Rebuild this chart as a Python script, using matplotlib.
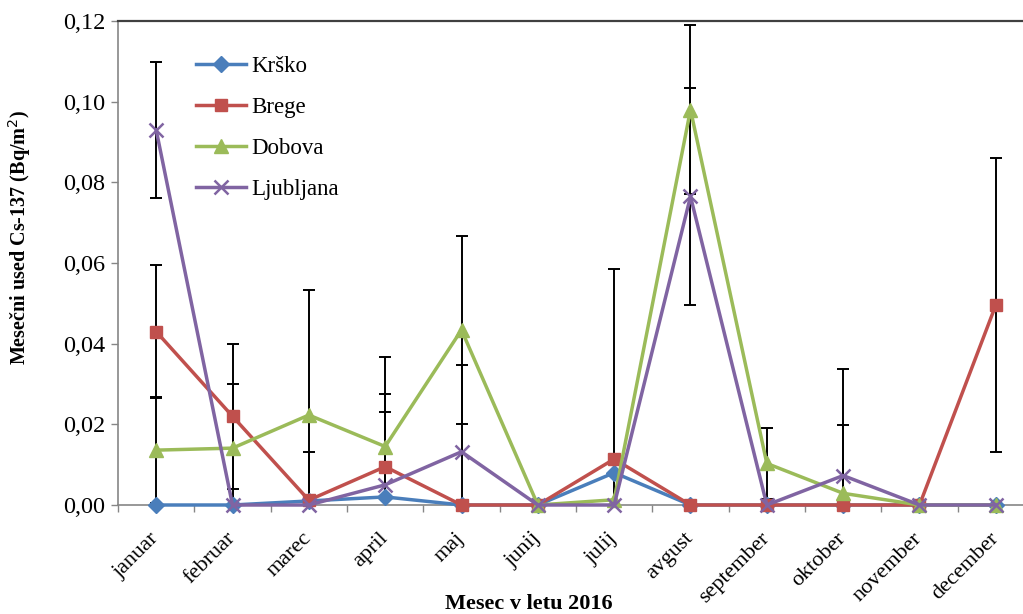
import numpy as np
import matplotlib
matplotlib.use("Agg")
import matplotlib.pyplot as plt
from matplotlib.ticker import FuncFormatter, MultipleLocator

plt.rcParams['font.family'] = ['Liberation Serif', 'DejaVu Serif']

months = ['januar', 'februar', 'marec', 'april', 'maj', 'junij', 'julij',
          'avgust', 'september', 'oktober', 'november', 'december']

krsko = [0.0, 0.0, 0.001, 0.002, 0.0, 0.0, 0.008, 0.0, 0.0, 0.0, 0.0, 0.0]
brege = [0.043, 0.022, 0.0012, 0.0095, 0.0, 0.0, 0.0114, 0.0, 0.0, 0.0, 0.0, 0.0496]
dobova = [0.0136, 0.0141, 0.0223, 0.0145, 0.0434, 0.0, 0.0013, 0.098, 0.0103, 0.0029, 0.0, 0.0]
ljubljana = [0.093, 0.0, 0.0, 0.005, 0.0132, 0.0, 0.0, 0.0765, 0.0, 0.0073, 0.0, 0.0]

# merilne negotovosti (0 = brez prikaza)
krsko_err = [0, 0, 0, 0, 0, 0, 0, 0, 0, 0, 0, 0]
brege_err = [0.0165, 0.018, 0.012, 0.018, 0, 0, 0.047, 0, 0, 0, 0, 0.0365]
dobova_err = [0.0132, 0.016, 0.031, 0.0222, 0.0232, 0, 0, 0.021, 0.0087, 0.017, 0, 0]
ljubljana_err = [0.0168, 0, 0, 0.018, 0.0214, 0, 0, 0.027, 0, 0.0265, 0, 0]

series = [
    ('Krško', krsko, krsko_err, '#4A7EBB', 'D', 8),
    ('Brege', brege, brege_err, '#C0504D', 's', 9),
    ('Dobova', dobova, dobova_err, '#9BBB59', '^', 10),
    ('Ljubljana', ljubljana, ljubljana_err, '#8064A2', 'x', 10),
]

fig = plt.figure(figsize=(10.23, 6.14), dpi=100)
ax = fig.add_axes([118 / 1023, 109 / 614, 916 / 1023, 484 / 614])

x = np.arange(len(months))
for name, vals, err, col, mk, ms in series:
    vals = np.array(vals)
    err = np.array(err)
    ax.plot(x, vals, color=col, lw=2.5, marker=mk, markersize=ms,
            markeredgewidth=1.8 if mk == 'x' else 1, label=name,
            clip_on=False, zorder=3)
    m = err > 0
    if m.any():
        ax.errorbar(x[m], vals[m], yerr=err[m], fmt='none', ecolor='black',
                    elinewidth=1.4, capsize=4.5, capthick=1.4, zorder=2.5)

ax.set_xlim(-0.5, len(months) - 0.5)
ax.set_ylim(0, 0.12)
ax.yaxis.set_major_locator(MultipleLocator(0.02))
ax.yaxis.set_major_formatter(FuncFormatter(lambda v, p: ('%.2f' % v).replace('.', ',')))
ax.set_xticks(x)
ax.set_xticklabels(months, rotation=45, ha='right', va='center',
                   rotation_mode='anchor', fontsize=16)
ax.set_xticks(np.arange(-0.5, len(months), 1), minor=True)
ax.tick_params(axis='x', which='major', length=0, pad=22)
ax.tick_params(axis='x', which='minor', length=5, color='#868686', width=1)
ax.tick_params(axis='y', length=5, color='#868686', width=1, labelsize=17.5, pad=4)

for s in ['left', 'bottom']:
    ax.spines[s].set_color('#868686')
    ax.spines[s].set_linewidth(1.2)
ax.spines['top'].set_color('#404040')
ax.spines['top'].set_linewidth(1.6)
ax.spines['right'].set_visible(False)

ax.legend(loc='upper left', bbox_to_anchor=(175 / 1023, 1 - 35 / 614),
          bbox_transform=fig.transFigure, frameon=False, fontsize=16.5,
          handlelength=2.2, labelspacing=0.88, handletextpad=0.25)

fig.text(20 / 1023, 1 - 237 / 614, 'Mesečni used Cs-137 (Bq/m$^2$)', rotation=90,
         ha='center', va='center', fontsize=14.5, fontweight='bold')
fig.text(529 / 1023, 1 - 604 / 614, 'Mesec v letu 2016', ha='center', va='center',
         fontsize=16, fontweight='bold')

fig.savefig('out.png', dpi=100)
